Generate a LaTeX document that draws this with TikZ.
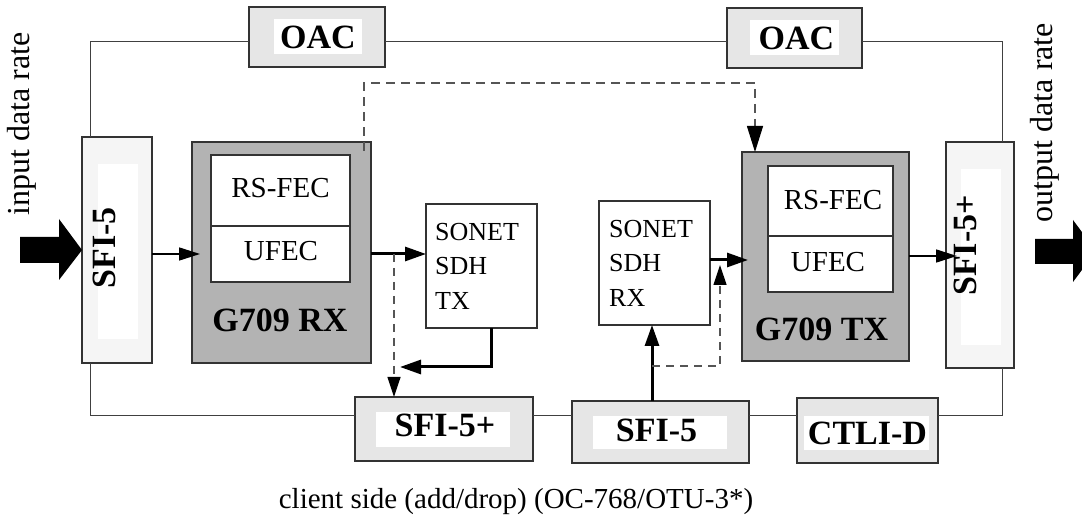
\documentclass[tikz,border=0pt]{standalone}
\usepackage{fontspec}
\setmainfont{Liberation Serif}
\usetikzlibrary{arrows.meta}
\definecolor{boxline}{HTML}{333333}
\definecolor{lightfill}{HTML}{E6E6E6}
\definecolor{sidefill}{HTML}{F5F5F5}
\definecolor{darkfill}{HTML}{B3B3B3}
\definecolor{wireclr}{HTML}{404040}
\definecolor{dashclr}{HTML}{555555}
\tikzset{
 sz/.style 2 args={minimum width=#1pt, minimum height=#2pt},
 blk/.style={draw=boxline, line width=1.1pt, inner sep=0pt, outer sep=0pt},
 greybox/.style={blk, fill=lightfill},
 sidebox/.style={blk, fill=sidefill},
 fecbox/.style={blk, fill=darkfill},
 whitebox/.style={blk, fill=white},
 innerpad/.style={fill=white, draw=none, inner sep=0pt, outer sep=0pt},
 boldlbl/.style={font=\fontsize{34}{40}\selectfont\bfseries, inner sep=0pt},
 reglbl/.style={font=\fontsize{29}{34}\selectfont, inner sep=0pt},
 sonlbl/.style={font=\fontsize{26}{34.5}\selectfont, inner sep=0pt, align=left, anchor=west},
 ratelbl/.style={font=\fontsize{32}{38}\selectfont, inner sep=0pt, rotate=90},
 wire/.style={draw=wireclr, line width=1pt},
 thinarr/.style={line width=1.6pt, -{Triangle[length=21pt,width=13pt,color=black]}},
 thickarr/.style={line width=3pt, -{Triangle[length=21pt,width=14pt,color=black]}},
 dasharr/.style={draw=dashclr, line width=1.2pt, dash pattern=on 8pt off 6pt, -{Triangle[length=20pt,width=13pt,color=black]}},
 bigdasharr/.style={draw=dashclr, line width=1.2pt, dash pattern=on 9pt off 6pt, -{Triangle[length=26pt,width=16pt,color=black]}},
}
\begin{document}
\begin{tikzpicture}[x=1pt,y=-1pt]
\useasboundingbox (0,0) rectangle (1082,518);
\clip (0,0) rectangle (1082,518);

% top OAC boxes
\node[greybox, sz={136}{60}] (oacL) at (317,37) {};
\node[innerpad, sz={88}{35}] (oacLpad) at (318,36.5) {};
\node[greybox, sz={135}{60}] (oacR) at (794.5,38) {};
\node[innerpad, sz={89}{35}] (oacRpad) at (794.5,37.5) {};

% side SFI boxes
\node[sidebox, sz={70}{226}] (SFIL) at (117,250) {};
\node[innerpad, sz={40}{175}] (SFILpad) at (118,251.5) {};
\node[sidebox, sz={68}{226}] (SFIR) at (980,255) {};
\node[innerpad, sz={40}{176}] (SFIRpad) at (981,257) {};

% G709 RX
\node[fecbox, sz={179}{221}] (RX) at (281.5,252.5) {};
\node[whitebox, sz={139}{71}] (RXrs) at (280.5,190.5) {};
\node[whitebox, sz={139}{56}] (RXuf) at (280.5,254) {};

% G709 TX
\node[fecbox, sz={167}{209}] (TX) at (825.5,256.5) {};
\node[whitebox, sz={125}{70}] (TXrs) at (830.5,201) {};
\node[whitebox, sz={125}{56}] (TXuf) at (830.5,264) {};

% SONET boxes
\node[whitebox, sz={111}{124}] (sonTX) at (481.5,266) {};
\node[whitebox, sz={111}{124}] (sonRX) at (654.5,263) {};

% bottom boxes
\node[greybox, sz={178}{64}] (sfiP) at (444,429) {};
\node[innerpad, sz={134}{35}] (sfiPpad) at (443,429.5) {};
\node[greybox, sz={177}{62}] (sfiB) at (660.5,432) {};
\node[innerpad, sz={134}{33}] (sfiBpad) at (660,432.5) {};
\node[greybox, sz={141}{65}] (ctli) at (867.5,430.5) {};
\node[innerpad, sz={125}{34}] (ctlipad) at (866.5,433) {};

% helper coordinates
\coordinate (busT) at (0,42);
\coordinate (busB) at (0,416);
\coordinate (xL) at (90,0);
\coordinate (xR) at (1002,0);

% wires
\draw[wire] (SFIL.north -| xL) |- (oacL.west |- busT);
\draw[wire] (oacL.east |- busT) -- (oacR.west |- busT);
\draw[wire] (oacR.east |- busT) -| (SFIR.north -| xR);
\draw[wire] (SFIL.south -| xL) |- (sfiP.west |- busB);
\draw[wire] (sfiP.east |- busB) -- (sfiB.west |- busB);
\draw[wire] (sfiB.east |- busB) -- (ctli.west |- busB);
\draw[wire] (ctli.east |- busB) -| (SFIR.south -| xR);

% arrows
\coordinate (yA) at (0,254);
\coordinate (tip1) at (200,254);
\draw[thinarr] (SFIL.east |- yA) -- (tip1);
\draw[thickarr] (RX.east |- yA) -- (sonTX.west |- yA);
\coordinate (dA) at (394,254);
\draw[dasharr] (dA) -- (sfiP.north -| dA);
\coordinate (xTXo) at (491,0);
\coordinate (tip4) at (400,367);
\draw[thickarr] (sonTX.south -| xTXo) |- (tip4);
\coordinate (xRXi) at (652,0);
\draw[thickarr] (sfiB.north -| xRXi) -- (sonRX.south -| xRXi);
\coordinate (dB) at (652,366);
\coordinate (tip6) at (720,265);
\draw[dasharr] (dB) -| (tip6);
\coordinate (yC) at (0,260);
\coordinate (tip7) at (748,260);
\draw[thickarr] (sonRX.east |- yC) -- (tip7);
\coordinate (yD) at (0,256);
\coordinate (tip8) at (957,256);
\draw[thinarr] (TX.east |- yD) -- (tip8);
\coordinate (dC) at (364,151);
\coordinate (yTop) at (0,83);
\coordinate (xTXd) at (755,0);
\draw[bigdasharr] (dC) -- (dC |- yTop) -| (TX.north -| xTXd);

% big block arrows
\fill (20,237) -- (59,237) -- (59,219) -- (82,250) -- (59,280) -- (59,263) -- (20,263) -- cycle;
\fill (1035,239) -- (1073,239) -- (1073,220) -- (1096,251) -- (1073,282) -- (1073,264) -- (1035,264) -- cycle;

% labels
\node[boldlbl] (oacLtxt) at (318,37) {OAC};
\node[boldlbl] (oacRtxt) at (796.5,38.5) {OAC};
\node[boldlbl, rotate=90] (SFILtxt) at (104,248) {SFI-5};
\node[boldlbl, rotate=90] (SFIRtxt) at (965.5,245.5) {SFI-5+};
\node[reglbl] (RXrstxt) at (280.5,188) {RS-FEC};
\node[reglbl] (RXuftxt) at (281,251) {UFEC};
\node[boldlbl] (RXtxt) at (280,320) {G709 RX};
\node[reglbl] (TXrstxt) at (833,200) {RS-FEC};
\node[reglbl] (TXuftxt) at (828,262) {UFEC};
\node[boldlbl] (TXtxt) at (821.5,329) {G709 TX};
\node[sonlbl] (sonTXtxt) at (435,266) {SONET\\SDH\\TX};
\node[sonlbl] (sonRXtxt) at (609,263) {SONET\\SDH\\RX};
\node[boldlbl] (sfiPtxt) at (445,425) {SFI-5+};
\node[boldlbl] (sfiBtxt) at (656.5,430) {SFI-5};
\node[boldlbl] (ctlitxt) at (867.5,433.5) {CTLI-D};
\node[reglbl, anchor=base] (caption) at (516,508) {client side (add/drop) (OC-768/OTU-3*)};
\node[ratelbl] (inrate) at (21.5,124) {input data rate};
\node[ratelbl] (outrate) at (1044.5,122.5) {output data rate};
\end{tikzpicture}
\end{document}
